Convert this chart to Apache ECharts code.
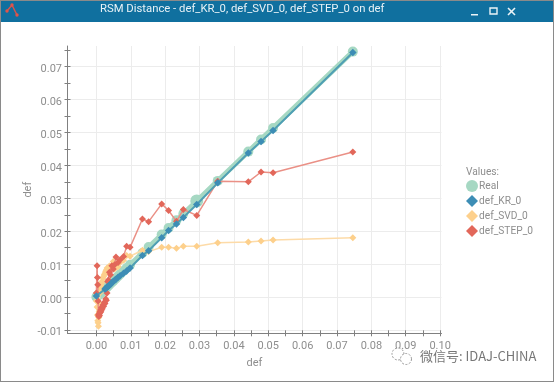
<!DOCTYPE html>
<html><head><meta charset="utf-8">
<style>html,body{margin:0;padding:0;background:#fff;overflow:hidden}#c{width:554px;height:382px}</style>
<script src="https://cdn.jsdelivr.net/npm/echarts@6/dist/echarts.min.js"></script>
</head><body><div id="c"></div>
<script>
const titleText = 'RSM Distance - def_KR_0, def_SVD_0, def_STEP_0 on def';
const seriesNames = ['Real','def_KR_0','def_SVD_0','def_STEP_0'];
const xMajor = [0,0.01,0.02,0.03,0.04,0.05,0.06,0.07,0.08,0.09,0.10];
const xMinor = [0,0.005,0.01,0.015,0.02,0.025,0.03,0.035,0.04,0.045,0.05,0.055,0.06,0.065,0.07,0.075,0.08,0.085,0.09,0.095,0.10];
const yMajor = [-0.01,0,0.01,0.02,0.03,0.04,0.05,0.06,0.07];
const yMinor = [-0.01,-0.005,0,0.005,0.01,0.015,0.02,0.025,0.03,0.035,0.04,0.045,0.05,0.055,0.06,0.065,0.07,0.075];
const xs    = [0,.0002,.0003,.0004,.0005,.0006,.0007,.0008,.0009,.001,.0011,.0012,.0013,.0014,.0015,.0017,.0019,.0021,.0023,.0025,.0027,.0029,.0031,.0033,.0035,.0038,.0041,.0045,.0049,.0053,.0057,.0063,.0069,.0079,.0088,.0098,.0134,.0152,.019,.021,.0233,.0253,.0292,.0353,.0442,.0479,.0514,.0746];
const realY = [0,.0002,.0003,.0004,.0005,.0006,.0007,.0008,.0009,.001,.0011,.0012,.0013,.0014,.0015,.0017,.0019,.0021,.0023,.0025,.0027,.0029,.0031,.0033,.0035,.0038,.0041,.0045,.0049,.0053,.0057,.0063,.0069,.0079,.0088,.0098,.0134,.0152,.019,.021,.0233,.0253,.0292,.0353,.0442,.0479,.0514,.0746];
const krY   = [.0003,null,null,null,null,null,null,null,null,null,null,null,null,null,null,null,null,null,null,.0024,.0026,.0028,.003,.0032,.0033,.0036,.0039,.0043,.0047,.0051,.0054,.006,.0065,.0072,.0079,.0088,.0126,.0141,.018,.0202,.0222,.0242,.0281,.0347,.0438,.0473,.0506,.0743];
const svdY  = [-.0012,-.003,-.0055,-.0072,-.0078,-.0089,-.0062,-.0045,-.002,.0012,.0025,.002,.0034,.003,.0042,.0048,.0058,.0062,.0068,.0072,.0078,.0082,.0088,.0085,.0086,.0094,.009,.0096,.0108,.0085,.0098,.0092,.0105,.0112,.0126,.0124,.0142,.0138,.0151,.0151,.0148,.0154,.0154,.0165,.0167,.017,.0173,.018];
const stepY = [.0012,.0095,.0059,.0037,-.0012,-.0055,-.0059,-.0052,-.0056,-.0048,-.0043,-.0046,-.0038,-.0042,-.0032,-.0036,-.0024,-.0028,-.0016,-.002,-.0006,-.001,.0012,.0047,.0052,.0075,.0068,.0095,.0085,.0098,.0122,.0105,.0113,.0123,.0154,.0151,.0237,.0229,.0283,.0263,.023,.0266,.0248,.0352,.035,.038,.0378,.0441];
const bigRealX = 0.0292;
const zip = ys => xs.map((x,i)=>[x,ys[i]]);

const GRID = {left:67.5, top:46, width:374, height:287.3};
const xR = {min:-0.0084, max:0.1004};
const yR = {min:-0.01103, max:0.0763};
const AX = '#808080', LB = '#8e8e8e', SP = '#ececec';
const fmt = v => Number(v).toFixed(2);

const tickAxis = (pos, vals, r, inside) => ({type:'value', position:pos, min:r.min, max:r.max,
  axisLine:{show:false, onZero:false}, splitLine:{show:false}, axisLabel:{show:false},
  axisTick:{show:true, inside, length:3, customValues:vals, lineStyle:{color:AX, width:1}}});

const chart = echarts.init(document.getElementById('c'), null, {renderer:'canvas'});
chart.setOption({
  animation:false, backgroundColor:'#fff',
  textStyle:{fontFamily:'Roboto'},
  grid:GRID,
  xAxis:[
    {type:'value', position:'bottom', min:xR.min, max:xR.max, name:'def', nameLocation:'middle', nameGap:24.4, nameMoveOverlap:false,
     nameTextStyle:{color:LB, fontSize:11, fontFamily:'Roboto'},
     axisLine:{show:true, onZero:false, lineStyle:{color:AX, width:1}},
     axisTick:{show:false, customValues:xMajor},
     axisLabel:{color:LB, fontSize:11, margin:7.4, customValues:xMajor, formatter:fmt, showMinLabel:true, showMaxLabel:true, hideOverlap:false},
     splitLine:{show:true, showMinLine:true, showMaxLine:true, lineStyle:{color:SP, width:1}}},
    tickAxis('bottom', xMinor, xR, false),
    tickAxis('bottom', xMinor, xR, true)
  ],
  yAxis:[
    {type:'value', position:'left', min:yR.min, max:yR.max, name:'def', nameLocation:'middle', nameGap:34, nameMoveOverlap:false,
     nameTextStyle:{color:LB, fontSize:11, fontFamily:'Roboto'},
     axisLine:{show:true, onZero:false, lineStyle:{color:AX, width:1}},
     axisTick:{show:false, customValues:yMajor},
     axisLabel:{color:LB, fontSize:11, margin:5.5, verticalAlign:'top', lineHeight:5.5, customValues:yMajor, formatter:fmt, hideOverlap:false},
     splitLine:{show:true, lineStyle:{color:SP, width:1}}},
    tickAxis('left', yMinor, yR, false),
    tickAxis('left', yMinor, yR, true)
  ],
  legend:{show:true, orient:'vertical', left:466, top:180, padding:0, itemWidth:12, itemHeight:12, itemGap:3,
    textStyle:{color:LB, fontSize:10.2, fontFamily:'Roboto', padding:[0,0,0,-4]},
    data:[
      {name:seriesNames[0], icon:'circle'},
      {name:seriesNames[1], icon:'diamond'},
      {name:seriesNames[2], icon:'diamond'},
      {name:seriesNames[3], icon:'diamond'}]},
  series:[
    {name:seriesNames[0], type:'line', data:zip(realY), symbol:'circle', symbolSize:(v)=>v[0]===bigRealX?13:10,
     itemStyle:{color:'#a6d8c3'}, lineStyle:{color:'#a6d8c3', width:5}, z:2},
    {name:seriesNames[2], type:'line', data:zip(svdY), symbol:'diamond', symbolSize:7,
     itemStyle:{color:'#fdd08c'}, lineStyle:{color:'#fddba8', width:1.5}, z:3},
    {name:seriesNames[3], type:'line', data:zip(stepY), symbol:'diamond', symbolSize:7,
     itemStyle:{color:'#e2675a'}, lineStyle:{color:'#ea9086', width:1.5}, z:4},
    {name:seriesNames[1], type:'line', data:zip(krY), connectNulls:true, symbol:'diamond', symbolSize:7.5,
     itemStyle:{color:'#3d8db5'}, lineStyle:{color:'#4f9fb4', width:2}, z:5}
  ],
  graphic:[
    {type:'rect', silent:true, shape:{x:0,y:0,width:554,height:22}, style:{fill:'#10709f'}, z:10},
    {type:'rect', silent:true, shape:{x:0,y:0,width:554,height:1}, style:{fill:'#8a8a8a'}, z:11},
    {type:'rect', silent:true, shape:{x:0,y:0,width:1,height:382}, style:{fill:'#8a8a8a'}, z:11},
    {type:'rect', silent:true, shape:{x:553,y:0,width:1,height:382}, style:{fill:'#8a8a8a'}, z:11},
    {type:'rect', silent:true, shape:{x:0,y:381,width:554,height:1}, style:{fill:'#8a8a8a'}, z:11},
    {type:'text', silent:true, left:100, top:4, z:11, style:{text:titleText, fill:'#e8f2f7', font:'11.3px Roboto'}},
    {type:'polyline', silent:true, shape:{points:[[7,11],[12,5],[17,15]]}, style:{stroke:'#d9534a', fill:'none', lineWidth:1.5}, z:11},
    {type:'circle', silent:true, shape:{cx:7,cy:11,r:1.7}, style:{fill:'#e2544a'}, z:12},
    {type:'circle', silent:true, shape:{cx:12,cy:5,r:1.7}, style:{fill:'#e2544a'}, z:12},
    {type:'circle', silent:true, shape:{cx:17,cy:15,r:1.7}, style:{fill:'#e2544a'}, z:12},
    {type:'rect', silent:true, shape:{x:471,y:14,width:7,height:1.5}, style:{fill:'#eaf3f7'}, z:11},
    {type:'rect', silent:true, shape:{x:490,y:8,width:7,height:6}, style:{fill:'none', stroke:'#eaf3f7', lineWidth:1.4}, z:11},
    {type:'line', silent:true, shape:{x1:508,y1:8,x2:515,y2:15}, style:{stroke:'#eaf3f7', lineWidth:1.6}, z:11},
    {type:'line', silent:true, shape:{x1:515,y1:8,x2:508,y2:15}, style:{stroke:'#eaf3f7', lineWidth:1.6}, z:11},
    {type:'text', silent:true, left:466, top:167, z:11, style:{text:'Values:', fill:LB, font:'10.2px Roboto'}},
    {type:'text', silent:true, left:420, top:350, z:11, style:{text:'微信号: IDAJ-CHINA', fill:'#777', font:'13px "Noto Sans CJK SC"'}},
    {type:'circle', silent:true, shape:{cx:398,cy:354,r:6}, style:{fill:'#fff', stroke:'#999', lineWidth:1, lineDash:[2,1.5]}, z:11},
    {type:'circle', silent:true, shape:{cx:406,cy:359,r:5.5}, style:{fill:'#fff', stroke:'#999', lineWidth:1, lineDash:[2,1.5]}, z:11}
  ]
});
</script></body></html>
